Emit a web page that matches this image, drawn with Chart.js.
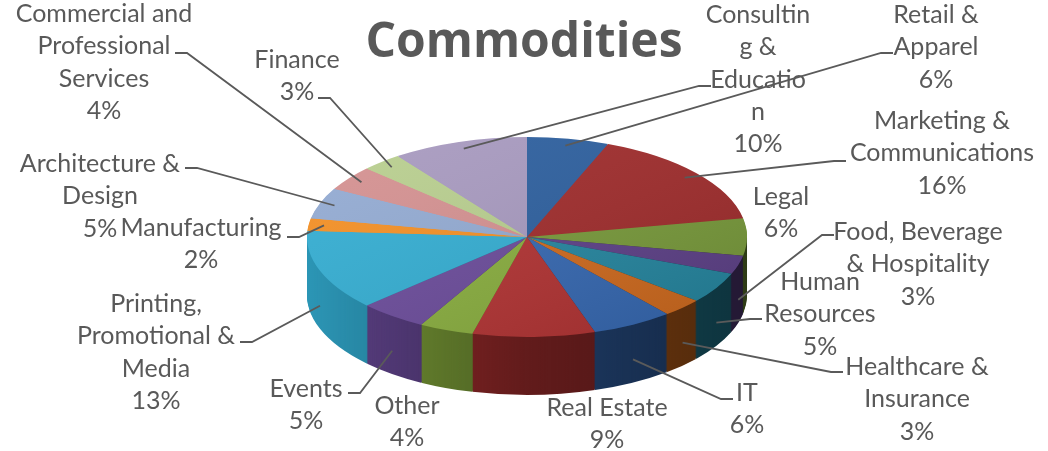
<!DOCTYPE html>
<html>
<head>
<meta charset="utf-8">
<script src="https://cdn.jsdelivr.net/npm/chart.js@4.4.1/dist/chart.umd.min.js"></script>
<style>
  html, body { margin: 0; padding: 0; background: #fff; }
  #wrap { width: 1048px; height: 451px; position: relative; }
</style>
</head>
<body>
<div id="wrap"><canvas id="pieChart"></canvas></div>
<script>
// slices, clockwise from 12 o'clock
const categories = [
  "Retail & Apparel", "Marketing & Communications", "Legal", "Food, Beverage & Hospitality",
  "Human Resources", "Healthcare & Insurance", "IT", "Real Estate", "Other", "Events",
  "Printing, Promotional & Media", "Manufacturing", "Architecture & Design",
  "Commercial and Professional Services", "Finance", "Consulting & Education",
];
const shares = [6, 16, 6, 3, 5, 3, 6, 9, 4, 5, 13, 2, 5, 4, 3, 10];

const sliceColors = [
  "#2c5f9f", "#a02b2b", "#789a3a", "#5d4088", "#2486a0", "#d06a1d", "#3568b2", "#b23232",
  "#89ae3e", "#6b4b9b", "#33aed3", "#f59024", "#93abd3", "#d59191", "#b9cf8f", "#a89ac0",
];

// label layout (how Excel wrapped and placed the data labels)
const labelLines = [
  ["Retail &", "Apparel"], ["Marketing &", "Communications"], ["Legal"],
  ["Food, Beverage", "& Hospitality"], ["Human", "Resources"], ["Healthcare &", "Insurance"],
  ["IT"], ["Real Estate"], ["Other"], ["Events"], ["Printing,", "Promotional &", "Media"],
  ["Manufacturing"], ["Architecture &", "Design"], ["Commercial and", "Professional", "Services"],
  ["Finance"], ["Consultin", "g &", "Educatio", "n"],
];
const labelX = [936, 942, 781, 918, 820, 917, 747, 607, 407, 306, 156, 201, 100, 104, 297, 758];
const labelY = [15, 121, 197, 232, 282, 367, 393, 408, 406, 389, 304, 228, 164, 14, 60, 15];
const leaderEnd = [
  [893, 53], [846, 161], null, [834, 235], [762, 319], [843, 372], [733, 399], null,
  null, [348, 393], [240, 342], [287, 237], [185, 168], [175, 53], [318, 98], [711, 86],
];

const PIE = { cx: 527, cy: 237, rx: 220, ry: 100, depth: 58 };
const LINE_H = 32.3;
const TEXT_COLOR = "#595959";

function ellipseTransform(ctx, el) {
  ctx.translate(PIE.cx, PIE.cy);
  ctx.scale(PIE.rx / el.outerRadius, PIE.ry / el.outerRadius);
  ctx.translate(-el.x, -el.y);
}

function arcPath(ctx, a) {
  ctx.beginPath();
  ctx.moveTo(a.x, a.y);
  ctx.arc(a.x, a.y, a.outerRadius, a.startAngle, a.endAngle);
  ctx.closePath();
}

const pie3d = {
  id: "pie3d",
  beforeDatasetsDraw(chart) {
    const ctx = chart.ctx;
    const arcs = chart.getDatasetMeta(0).data;
    const ref = arcs[0];

    // extruded side: stamp the slices downwards, nearest stamp wins
    for (let d = PIE.depth; d >= 1; d--) {
      ctx.save();
      ctx.translate(0, d);
      ellipseTransform(ctx, ref);
      arcs.forEach((a, i) => {
        arcPath(ctx, a);
        ctx.fillStyle = sliceColors[i];
        ctx.fill();
      });
      ctx.restore();
    }

    // side shading, darker to the right
    ctx.save();
    ctx.beginPath();
    ctx.rect(PIE.cx - PIE.rx - 4, PIE.cy, 2 * PIE.rx + 8, PIE.ry + PIE.depth + 6);
    ctx.clip();
    ctx.globalCompositeOperation = "source-atop";
    const g = ctx.createLinearGradient(PIE.cx - PIE.rx, 0, PIE.cx + PIE.rx, 0);
    g.addColorStop(0, "rgba(0,0,0,0.14)");
    g.addColorStop(0.5, "rgba(0,0,0,0.45)");
    g.addColorStop(1, "rgba(0,0,0,0.62)");
    ctx.fillStyle = g;
    ctx.fillRect(PIE.cx - PIE.rx - 4, PIE.cy, 2 * PIE.rx + 8, PIE.ry + PIE.depth + 6);
    ctx.restore();

    // top face drawn by Chart.js, squashed to an ellipse
    ctx.save();
    ellipseTransform(ctx, ref);
  },
  afterDatasetsDraw(chart) {
    const ctx = chart.ctx;
    const arcs = chart.getDatasetMeta(0).data;
    // light top-left, darker bottom-right
    ctx.beginPath();
    ctx.arc(arcs[0].x, arcs[0].y, arcs[0].outerRadius, 0, Math.PI * 2);
    ctx.clip();
    const r = arcs[0].outerRadius;
    const g = ctx.createLinearGradient(arcs[0].x - r, arcs[0].y - r, arcs[0].x + r, arcs[0].y + r);
    g.addColorStop(0, "rgba(255,255,255,0.06)");
    g.addColorStop(1, "rgba(0,0,0,0.14)");
    ctx.fillStyle = g;
    ctx.fillRect(arcs[0].x - r, arcs[0].y - r, 2 * r, 2 * r);
    ctx.restore();
  },
  afterDraw(chart) {
    const ctx = chart.ctx;
    const arcs = chart.getDatasetMeta(0).data;

    // leader lines
    ctx.save();
    ctx.strokeStyle = "#5a5a5a";
    ctx.lineWidth = 1.8;
    arcs.forEach((a, i) => {
      const end = leaderEnd[i];
      if (!end) return;
      const mid = (a.startAngle + a.endAngle) / 2;
      const c = Math.cos(mid), s = Math.sin(mid);
      let px, py;
      if (s > 0.25) {
        px = PIE.cx + PIE.rx * c;
        py = PIE.cy + PIE.ry * s + PIE.depth * 0.6;
      } else {
        px = PIE.cx + PIE.rx * 0.93 * c;
        py = PIE.cy + PIE.ry * 0.93 * s;
      }
      const kx = end[0] + (end[0] > PIE.cx ? -12 : 12);
      ctx.beginPath();
      ctx.moveTo(px, py);
      ctx.lineTo(kx, end[1]);
      ctx.lineTo(end[0], end[1]);
      ctx.stroke();
    });
    ctx.restore();

    // data labels: category + percentage
    ctx.save();
    ctx.font = "25px Lato";
    ctx.fillStyle = TEXT_COLOR;
    ctx.textAlign = "center";
    ctx.textBaseline = "middle";
    shares.forEach((v, i) => {
      const lines = labelLines[i].concat([v + "%"]);
      lines.forEach((t, j) => ctx.fillText(t, labelX[i], labelY[i] + j * LINE_H));
    });
    ctx.restore();
  },
};

function makeChart() {
  new Chart(document.getElementById("pieChart"), {
    type: "pie",
    data: {
      labels: categories,
      datasets: [{
        data: shares,
        backgroundColor: sliceColors,
        borderWidth: 0,
        clip: false,
      }],
    },
    options: {
      responsive: true,
      maintainAspectRatio: false,
      animation: false,
      events: [],
      layout: { padding: { top: 0, bottom: 10, left: 0, right: 0 } },
      plugins: {
        legend: { display: false },
        tooltip: { enabled: false },
        title: {
          display: true,
          text: "Commodities",
          color: TEXT_COLOR,
          font: { family: "Open Sans", size: 48, weight: "bold", lineHeight: 1.2 },
          padding: { top: 15, bottom: 2 },
        },
      },
    },
    plugins: [pie3d],
  });
}

Promise.all([
  document.fonts.load("25px Lato"),
  document.fonts.load("bold 48px 'Open Sans'"),
]).then(makeChart, makeChart);
</script>
</body>
</html>
